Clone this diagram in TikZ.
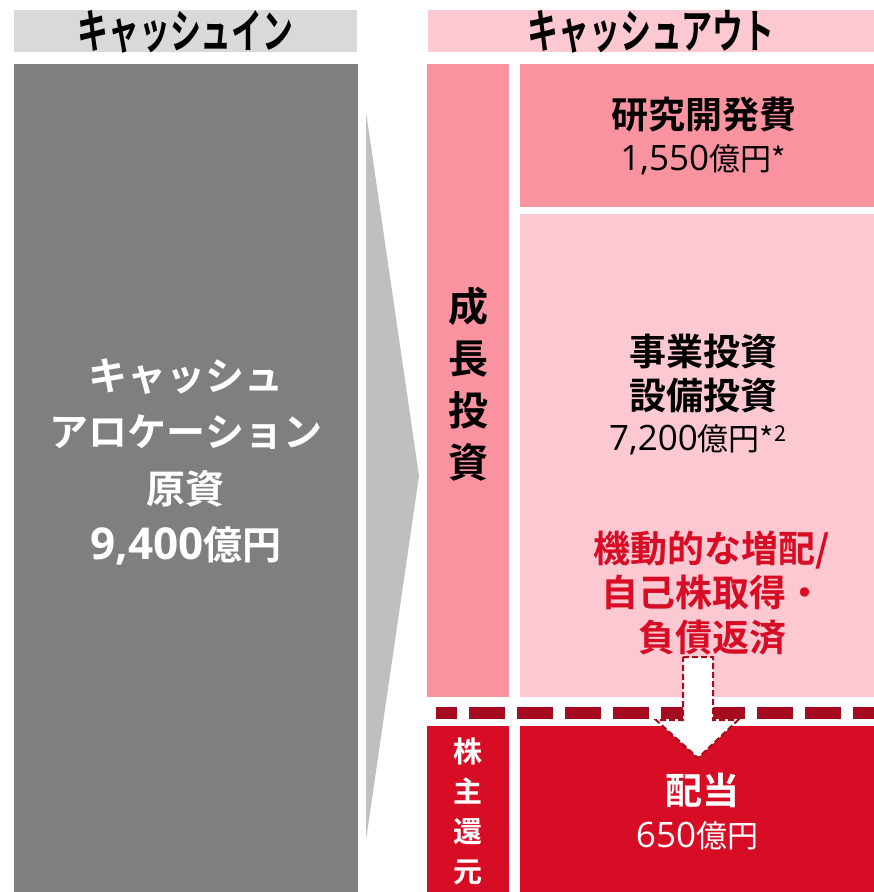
\documentclass[tikz,border=0pt]{standalone}
\usepackage{fontspec}
\setmainfont{Noto Sans CJK JP}[BoldFont={Noto Sans CJK JP Bold}]
\newfontfamily\numfont{Open Sans}
\definecolor{hdgray}{HTML}{D9D9D9}
\definecolor{boxgray}{HTML}{7F7F7F}
\definecolor{chevgray}{HTML}{BFBFBF}
\definecolor{lightpink}{HTML}{FCC8D1}
\definecolor{midpink}{HTML}{F9939F}
\definecolor{brightred}{HTML}{D70C25}
\definecolor{darkred}{HTML}{A50A1E}
\newcommand{\regnum}[1]{{\numfont\fontsize{35}{36}\selectfont #1}}
\tikzset{
  txt/.style={inner sep=0pt, align=center},
  hdr/.style={txt, font=\bfseries\fontsize{36}{40}\selectfont, text=black},
}
\begin{document}
\begin{tikzpicture}[x=1pt,y=-1pt]
\useasboundingbox (0,0) rectangle (874,892);
% headers
\fill[hdgray] (14,10) rectangle (357,52);
\fill[lightpink] (428,10) rectangle (874,52);
\node[hdr] (hin) at (185.5,32) {\scalebox{0.86}[1.3]{キャッシュイン}};
\node[hdr] (hout) at (651,32) {\scalebox{0.86}[1.3]{キャッシュアウト}};
% left big box
\fill[boxgray] (14,64) rectangle (358,892);
\node[txt, text=white, font=\bfseries\fontsize{39}{56.5}\selectfont] (src) at (186,462)
  {キャッシュ\\アロケーション\\原資\\{\numfont\bfseries\fontsize{44}{46}\selectfont 9,400}億円};
% chevron
\fill[chevgray] (366,112) -- (419,476) -- (366,840) -- cycle;
% growth column
\fill[midpink] (427,64) rectangle (509,697);
\node[txt, font=\bfseries\fontsize{40}{52}\selectfont] (grow) at (468,384)
  {成\\長\\投\\資};
% R&D
\fill[midpink] (520,64) rectangle (874,207);
\node[txt, font=\bfseries\fontsize{37}{40}\selectfont] (rd) at (704,115) {研究開発費};
\node[txt, font=\fontsize{31}{36}\selectfont] (rdv) at (703,160) {\regnum{1,550}億円*};
% business investment
\fill[lightpink] (520,214) rectangle (874,697);
\node[txt, font=\bfseries\fontsize{37}{44}\selectfont] (biz) at (703,373) {事業投資\\設備投資};
\node[txt, font=\fontsize{31}{36}\selectfont] (bizv) at (698,440) {\regnum{7,200}億円*\textsuperscript{2}};
\node[txt, text=brightred, font=\bfseries\fontsize{37}{44.5}\selectfont] (flex) at (712,593)
  {機動的な増配/\\自己株取得・\\負債返済};
% shareholder return
\fill[brightred] (427,726) rectangle (509,892);
\node[txt, text=white, font=\bfseries\fontsize{29}{40}\selectfont] (ret) at (468,811)
  {株\\主\\還\\元};
\fill[brightred] (520,726) rectangle (874,892);
\node[txt, text=white, font=\bfseries\fontsize{37}{40}\selectfont] (div) at (702,790) {配当};
\node[txt, text=white, font=\fontsize{31}{36}\selectfont] (divv) at (697,836) {\regnum{650}億円};
% dashed separator
\coordinate (sepL) at (436,713);
\coordinate (sepR) at (874,713);
\draw[darkred, line width=12pt, dash pattern=on 21pt off 12pt on 36pt off 12pt on 36pt off 12pt on 36pt off 12pt on 36pt off 12pt on 36pt off 12pt on 36pt off 12pt on 36pt off 12pt on 36pt off 12pt on 36pt off 12pt] (sepL) -- (sepR);
% arrow
\draw[fill=white, draw=darkred, line width=2pt, dash pattern=on 6pt off 3pt]
  (683,657) -- (713,657) -- (713,720) -- (738,720) -- (698,758) -- (656,720) -- (683,720) -- cycle;
\end{tikzpicture}
\end{document}
